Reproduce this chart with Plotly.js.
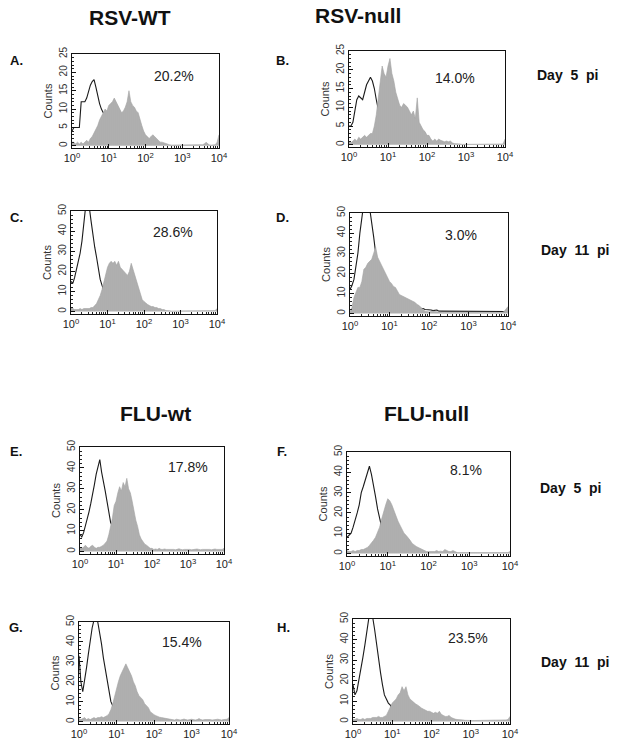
<!DOCTYPE html>
<html>
<head>
<meta charset="utf-8">
<script src="https://cdn.plot.ly/plotly-3.0.1.min.js"></script>
<style>html,body{margin:0;padding:0;background:#fff;}#chart{width:622px;height:751px;}</style>
</head>
<body>
<div id="chart"></div>
<script>
// Channel positions: 81 bins, log10 decades 0..4 in steps of 0.05
const binCount = 81;

// Panel labels, column titles, row labels, percentages
const panelLetters = ["A.", "B.", "C.", "D.", "E.", "F.", "G.", "H."];
const columnTitles = ["RSV-WT", "RSV-null", "FLU-wt", "FLU-null"];
const rowLabels = ["Day  5  pi", "Day  11  pi", "Day  5  pi", "Day  11  pi"];
const percentLabels = ["20.2%", "14.0%", "28.6%", "3.0%", "17.8%", "8.1%", "15.4%", "23.5%"];
const countMax = [25, 25, 50, 50, 50, 50, 50, 50];
const xTickText = ["10<sup>0</sup>", "10<sup>1</sup>", "10<sup>2</sup>", "10<sup>3</sup>", "10<sup>4</sup>"];
const xTickVals = [1, 10, 100, 1000, 10000];

// Grey (filled) histograms, 81 values each
const greyA = [1,1,0.5,1,0.5,1,0.5,1,1.5,1, 2,2.5,3.5,4.5,5.5,7,8,9,10,9.5, 11,11.5,12,13,12,11,10,9,9.5,10.5, 12,15,12,11,10.5,9.5,9,7,5.5,4, 3,2.5,2,2.5,3,2.5,2,1.5,1,1, 0.8,0.5,0.3,0.3,0.2,0.2,0.2,0.3,0.2,0.2, 0.2,0.2,0.3,0.2,0.2,0.2,0.2,0.3,0.2,0.2, 0.2,0.3,0.5,1,0.5,0.2,0.2,0.2,0.3,1, 3];
const greyB = [1,0.5,1,1.5,1,2,1.5,2,2.5,2, 2.5,3,3,5,8,12,17,21,19,18, 21,23,19,17,14,12,10.5,10,11,10.5, 10,9,8,9,7,12.5,6,5,4,3.5, 2.5,2.5,1.5,1,1.5,1,1.5,1.2,1,0.8, 1,0.8,1,0.5,0.3,0.2,0.2,0.2,0.1,0.1, 0.1,0.1,0.1,0.1,0.1,0.1,0.1,0.1,0.1,0.1, 0.1,0.1,0.1,0.1,0.1,0.1,0.1,0.1,0.1,0.2, 1.5];
const greyC = [2,1.5,1,1,1,1.5,1,1.5,1.5,1.5, 1.5,2,2,3,4,6,8,11,15,19, 22,24,25,24,25,23,25,22,21,20, 19,18,20,24,21,18,15,11,8,6, 5,4,3.5,3,2.5,2.5,2,2,1.5,1.5, 1,1,0.5,0.5,0.3,0.3,0.3,0.3,0.3,0.3, 0.3,0.3,0.3,0.3,0.3,0.3,0.3,0.3,0.3,0.3, 0.3,0.3,0.3,0.3,0.3,0.3,0.3,0.3,0.3,0.5, 1.5];
const greyD = [1,3,8,11,13,13,16,22,23,25, 26,27,30,33,28,26,24,22,20,18, 16,15,13.5,13,11,9.5,9,8.5,8,7.5, 7,6.5,6,5.5,4.5,4,3,2,1.2,1, 0.8,1,1.2,1,0.8,0.6,0.5,0.5,0.5,0.5, 0.5,0.5,0.6,0.5,0.5,0.5,0.5,0.6,0.5,0.5, 0.5,0.5,0.5,0.6,0.5,0.5,0.5,0.5,0.6,0.5, 0.5,0.5,0.6,0.5,0.5,0.6,0.5,0.5,1,2, 3.5];
const greyE = [2,1.5,2,3,2,1.5,2.5,3,2,1.5, 2,2,2.5,3,4,5,8,12,16,22, 24,28,31,29,33,31,35,30,28,24, 19,15,12,8,6,4.5,3.5,3,2,1.5, 1.5,1,1.2,1,1.5,1,1,1.2,1,1, 1,1.2,1,0.8,1,1.3,1,0.8,1,1, 1.2,1,0.8,1,1,1.2,1,0.8,1,1, 1.2,1,1,0.8,1,1.2,1,1,1,1, 1.5];
const greyF = [1.5,1,1,1.5,1,1.5,1.5,2,2,2.5, 3,4,5,6.5,8,10.5,13,17,21,24, 27,26,24,21,19,16,14,12,10,9, 8,6.5,5,4,3.5,3,2.5,2,1.5,1, 1,1,1,1,1.5,1,1.2,1,2,1.5, 1,1,1.5,1,0.5,0.5,0.5,0.5,0.5,0.5, 0.5,0.5,0.5,0.5,0.5,0.5,0.5,0.5,0.5,0.5, 0.5,0.5,0.5,0.5,0.5,0.5,0.5,0.5,0.5,0.5, 1];
const greyG = [1.5,1,1.5,2,1,1.5,1,1.5,2,1.5, 2,2,2.5,2,2.5,3,4,6,9,13, 17,20,23,25,27,29,27,25,23,20, 18,15,13,12,11,9,8,7,5,4, 3.5,3,2.5,2.2,2,1.8,1.5,1.3,1.2,1, 1,0.8,1.2,1,0.8,1,1.3,1,0.8,1, 1.2,1,0.8,1,1.5,1,0.8,1,1,1.2, 1,0.8,1,1,1.2,1,0.8,1,1,1.2, 2];
const greyH = [1,1,1.5,1,1,1.5,1,1.5,1.5,1.5, 2,2,2,2.5,2,2,2.5,3,5,7, 9,10,11,13,14,17,15,17,13,11, 10,9,8.5,8,7,6.5,6,5.5,5,5, 4.5,4,4.5,4,5,3.5,3,2.5,2.5,3, 2,1.5,1.2,1,1,0.8,0.8,0.6,0.5,0.5, 0.5,0.5,0.5,0.5,0.5,0.5,0.5,0.5,0.5,0.5, 0.5,0.5,0.5,0.5,0.5,0.5,0.5,0.5,0.8,1, 2.5];

// Black (open) control histograms, from channel 0 onward
const blackA = [4,5,5,5,5,12,12,12,13,15,16.5,17.5,18,16,13.5,11.5,10,9,8.5,7,5,4];
const blackB = [5,5,6,9,12,13,12.5,12,14,16,17,18,17,15,12,9.5,8,6,4];
const blackC = [15,14,17,21,25,29,35,45,52,55,52,45,38,32,27,21,16,13,10,7,5];
const blackD = [12,14,17,23,30,40,50,55,56,55,52,46,38,30,24,18,14, 11,9,8,7,6.5,6,5.5,5,4.5,4.5,4,4,3.5,3.5,3,3,3,3,2.5,2.5, 2.5,2,2,2,1.8,1.5,1.5,1.8,1.2,1.2,1,1,1.2,1, 1,1.2,1,1,1,1.2,1,1,1,1.2, 1,1,1.2,1,1,1,1.2,1,1,1, 1.2,1,1,1,1.2,1,1,1,1,1.5, 3];
const blackE = [8,7,9,12,15,19,23,27,32,37,40,44,38,34,29,24,18,14,12,10,8,6];
const blackF = [8,9,10,13,16,20,24,30,33,36,40,43,39,34,28,22,17,13,10,8,6];
const blackG = [33,20,15,20,27,34,41,47,51,52,50,45,39,32,26,20,15,10,8,6,4];
const blackH = [18,13,15,20,25,31,37,44,50,53,51,45,37,30,24,18,13,11,9,8,6,5];

const greys = [greyA, greyB, greyC, greyD, greyE, greyF, greyG, greyH];
const blacks = [blackA, blackB, blackC, blackD, blackE, blackF, blackG, blackH];

// ---- layout geometry (pixels) ----
const W = 622, Hh = 751;
const boxes = [
  {x0:72, x1:219, y0:54, y1:148},
  {x0:349, x1:505, y0:51, y1:147},
  {x0:71, x1:217, y0:211, y1:314},
  {x0:350, x1:508, y0:213, y1:316},
  {x0:80, x1:224, y0:447, y1:554},
  {x0:347, x1:510, y0:452, y1:556},
  {x0:79, x1:229, y0:622, y1:724},
  {x0:353, x1:510, y0:619, y1:724}
];
const px = v => v / W;
const py = v => 1 - v / Hh;

const bins = [];
for (let i = 0; i < binCount; i++) bins.push(Math.pow(10, i * 0.05));
const minorVals = [];
for (let d = 0; d < 4; d++) for (let k = 2; k <= 9; k++) minorVals.push(k * Math.pow(10, d));

const FONT = "Liberation Sans, Arial, sans-serif";
const data = [];
const layout = {
  width: W, height: Hh,
  margin: {l:0, r:0, t:0, b:0},
  paper_bgcolor: "#fff", plot_bgcolor: "#fff",
  showlegend: false,
  font: {family: FONT, color: "#111"},
  annotations: []
};

boxes.forEach((b, i) => {
  const n = i + 1;
  const xa = "x" + (n === 1 ? "" : n), ya = "y" + (n === 1 ? "" : n);
  const black = blacks[i];
  data.push({
    type: "scatter", mode: "lines", xaxis: xa, yaxis: ya,
    x: bins.slice(0, black.length), y: black,
    line: {color: "#1a1a1a", width: 1.1}, hoverinfo: "skip"
  });
  data.push({
    type: "scatter", mode: "lines", xaxis: xa, yaxis: ya,
    x: bins, y: greys[i], fill: "tozeroy",
    fillcolor: "#b3b3b3",
    fillpattern: {shape: "|", fgcolor: "#9c9c9c", bgcolor: "#bdbdbd", size: 2, solidity: 0.45},
    line: {color: "#a3a3a3", width: 0.6}, hoverinfo: "skip"
  });
  const ymax = countMax[i];
  const xKey = "xaxis" + (n === 1 ? "" : n), yKey = "yaxis" + (n === 1 ? "" : n);
  layout[xKey] = {
    domain: [px(b.x0), px(b.x1)], anchor: ya, type: "log", range: [0, 4],
    tickvals: xTickVals, ticktext: xTickText, ticks: "inside", ticklen: 4, tickcolor: "#111",
    minor: {tickvals: minorVals, ticks: "inside", ticklen: 2, tickcolor: "#222"},
    showline: true, mirror: true, linecolor: "#111", linewidth: 1,
    showgrid: false, zeroline: false, fixedrange: true,
    tickfont: {size: 11, family: FONT, color: "#222"}
  };
  layout[yKey] = {
    domain: [py(b.y1), py(b.y0)], anchor: xa,
    range: ymax === 25 ? [-0.6, 25] : [-1.2, 50],
    dtick: ymax === 25 ? 5 : 10, tickangle: -90,
    ticks: "inside", ticklen: 4, tickcolor: "#111",
    minor: {dtick: ymax === 25 ? 1 : 2, ticks: "inside", ticklen: 2, tickcolor: "#222"},
    showline: true, mirror: true, linecolor: "#111", linewidth: 1,
    showgrid: false, zeroline: false, fixedrange: true,
    tickfont: {size: 10, family: FONT, color: "#333"},
    title: {text: "Counts", font: {size: 11, family: FONT, color: "#333"}, standoff: 3}
  };
});

function ann(text, x, y, size, opts) {
  layout.annotations.push(Object.assign({
    text: text, xref: "paper", yref: "paper", x: px(x), y: py(y),
    xanchor: "center", yanchor: "middle", showarrow: false,
    font: {size: size, family: FONT, color: "#111"}
  }, opts || {}));
}

// Column titles
const titlePos = [[130, 17], [358, 15], [155, 413], [426, 413]];
columnTitles.forEach((t, i) => ann("<b>" + t + "</b>", titlePos[i][0], titlePos[i][1], 21));

// Panel letters
const letterPos = [[16, 61], [282, 61], [16, 217], [282, 217], [16, 452], [282, 452], [16, 627], [283, 627]];
panelLetters.forEach((t, i) => ann("<b>" + t + "</b>", letterPos[i][0], letterPos[i][1], 13));

// Row labels
const rowPos = [[567, 75], [575, 250], [570, 488], [575, 662]];
rowLabels.forEach((t, i) => ann("<b>" + t + "</b>", rowPos[i][0], rowPos[i][1], 14));

// Percentages
const pctPos = [[174, 76], [455, 78], [173, 232], [461, 235], [188, 467], [466, 470], [182, 642], [468, 638]];
percentLabels.forEach((t, i) => ann(t, pctPos[i][0], pctPos[i][1], 14, {font: {size: 14, family: FONT, color: "#222"}}));

Plotly.newPlot("chart", data, layout, {staticPlot: true, displayModeBar: false});
</script>
</body>
</html>
